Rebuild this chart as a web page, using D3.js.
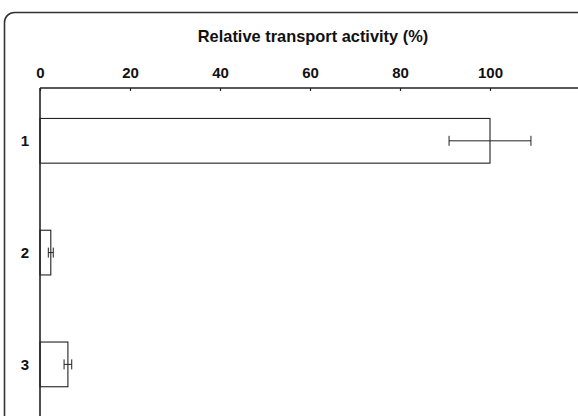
<!DOCTYPE html>
<html>
<head>
<meta charset="utf-8">
<script src="https://cdn.jsdelivr.net/npm/d3@7"></script>
<style>
  html, body { margin: 0; padding: 0; background: #fff; }
  svg { display: block; }
  text { font-family: "Liberation Sans", Arial, Helvetica, sans-serif; font-weight: bold; fill: #111; }
</style>
</head>
<body>
<svg id="chart" width="578" height="416"></svg>
<script>
// Constructs (row labels), mean relative activity and error (+/-)
const categories = ["1", "2", "3"];
const activity = [100, 2.4, 6.2];
const errors = [9.1, 0.55, 0.85];
const tickValues = [0, 20, 40, 60, 80, 100];
const axisTitle = "Relative transport activity (%)";

const width = 578, height = 416;
const svg = d3.select("#chart");

// Rounded panel frame (runs off the right and bottom edges)
svg.append("rect")
  .attr("x", 4.5).attr("y", 12.5)
  .attr("width", 620).attr("height", 460)
  .attr("rx", 10).attr("ry", 10)
  .attr("fill", "none")
  .attr("stroke", "#333")
  .attr("stroke-width", 1.6);

const x = d3.scaleLinear().domain([0, 120]).range([40, 580]);
const y = d3.scaleBand().domain(categories)
  .range([96.1, 409.1])
  .paddingInner(0.6).paddingOuter(0.2);

const axisY = 88;

// Title above the axis
svg.append("text")
  .attr("x", 313).attr("y", 42)
  .attr("text-anchor", "middle")
  .style("font-size", "16.4px")
  .text(axisTitle);

// Top value axis with short inward ticks
const xAxis = d3.axisTop(x).tickValues(tickValues).tickSize(-3).tickPadding(10).tickFormat(d3.format("d"));
const gx = svg.append("g").attr("transform", `translate(0,${axisY})`).call(xAxis);
gx.select(".domain").remove();
gx.selectAll(".tick line").attr("stroke", "#222").attr("stroke-width", 1.2);
gx.selectAll(".tick text")
  .style("font-size", "15px")
  .style("font-family", "'Liberation Sans', Arial, sans-serif")
  .style("font-weight", "bold")
  .attr("fill", "#111");

svg.append("line")
  .attr("x1", x(0)).attr("x2", width)
  .attr("y1", axisY).attr("y2", axisY)
  .attr("stroke", "#222").attr("stroke-width", 1.6);

// Category axis on the left
svg.append("line")
  .attr("x1", x(0)).attr("x2", x(0))
  .attr("y1", axisY).attr("y2", height)
  .attr("stroke", "#222").attr("stroke-width", 1.6);

svg.selectAll("text.cat")
  .data(categories)
  .join("text")
  .attr("class", "cat")
  .attr("x", 25)
  .attr("y", d => y(d) + y.bandwidth() / 2)
  .attr("dy", "0.36em")
  .attr("text-anchor", "middle")
  .style("font-size", "15px")
  .text(d => d);

const rows = categories.map((c, i) => ({ c, v: activity[i], e: errors[i] }));

// Open bars
svg.selectAll("rect.bar")
  .data(rows)
  .join("rect")
  .attr("class", "bar")
  .attr("x", x(0))
  .attr("y", d => y(d.c))
  .attr("width", d => x(d.v) - x(0))
  .attr("height", y.bandwidth())
  .attr("fill", "none")
  .attr("stroke", "#222")
  .attr("stroke-width", 1.1);

// Error bars
const capH = 5;
const eb = svg.selectAll("g.err").data(rows).join("g").attr("class", "err")
  .attr("stroke", "#222").attr("stroke-width", 1);
eb.append("line")
  .attr("x1", d => x(d.v - d.e)).attr("x2", d => x(d.v + d.e))
  .attr("y1", d => y(d.c) + y.bandwidth() / 2)
  .attr("y2", d => y(d.c) + y.bandwidth() / 2);
eb.append("line")
  .attr("x1", d => x(d.v - d.e)).attr("x2", d => x(d.v - d.e))
  .attr("y1", d => y(d.c) + y.bandwidth() / 2 - capH)
  .attr("y2", d => y(d.c) + y.bandwidth() / 2 + capH);
eb.append("line")
  .attr("x1", d => x(d.v + d.e)).attr("x2", d => x(d.v + d.e))
  .attr("y1", d => y(d.c) + y.bandwidth() / 2 - capH)
  .attr("y2", d => y(d.c) + y.bandwidth() / 2 + capH);
</script>
</body>
</html>
